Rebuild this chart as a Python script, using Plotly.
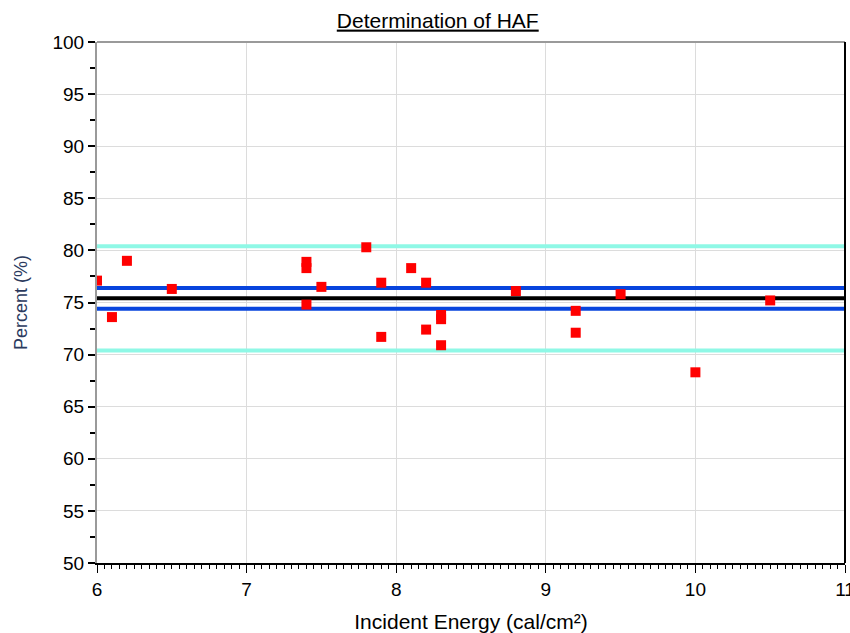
import plotly.graph_objects as go

# Data
energy = [6.0, 6.1, 6.2, 6.5, 7.4, 7.4, 7.4, 7.5, 7.8, 7.9, 7.9, 8.1, 8.2, 8.2,
          8.3, 8.3, 8.3, 8.8, 9.2, 9.2, 9.5, 10.0, 10.5]
percent = [77.1, 73.6, 79.0, 76.3, 78.9, 78.3, 74.8, 76.5, 80.3, 76.9, 71.7, 78.3, 76.9, 72.4,
           73.8, 73.4, 70.9, 76.1, 74.2, 72.1, 75.8, 68.3, 75.2]

mean_level = 75.4
inner_band = [74.4, 76.4]
outer_band = [70.4, 80.4]
x_range = [6, 11]
y_range = [50, 100]

FONT = "Liberation Sans, Arial, sans-serif"

fig = go.Figure()

def hline(y, color, width):
    fig.add_trace(go.Scatter(x=x_range, y=[y, y], mode="lines",
                             line=dict(color=color, width=width),
                             hoverinfo="skip", showlegend=False))

for y in outer_band:
    hline(y, "#8ff8e6", 4)
for y in inner_band:
    hline(y, "#0744dd", 4)
hline(mean_level, "#000000", 4)

fig.add_trace(go.Scatter(x=energy, y=percent, mode="markers",
                         marker=dict(symbol="square", size=10, color="#ff0000",
                                     line=dict(width=0)),
                         showlegend=False, cliponaxis=True))

fig.update_layout(
    width=850, height=633,
    margin=dict(l=97, r=5, t=42, b=70, autoexpand=False),
    paper_bgcolor="white", plot_bgcolor="white",
    title=dict(text="<u>Determination of HAF</u>", x=0.515, xanchor="center",
               y=0.968, yanchor="middle",
               font=dict(family=FONT, size=21, color="#000000")),
    font=dict(family=FONT, color="#000000"),
)

fig.update_xaxes(
    range=x_range, dtick=1, tick0=6, automargin=False,
    ticklabeloverflow="allow",
    showgrid=True, gridcolor="#dcdcdc", gridwidth=1,
    zeroline=False,
    showline=True, linecolor="#000000", linewidth=2,
    ticks="outside", ticklen=8, tickcolor="#000000", tickwidth=1,
    minor=dict(dtick=0.05, ticks="outside", ticklen=4, tickcolor="#000000", showgrid=False),
    tickfont=dict(family=FONT, size=19),
    title=dict(text="Incident Energy (cal/cm²)", font=dict(family=FONT, size=21), standoff=16),
)

fig.update_yaxes(
    range=y_range, dtick=5, tick0=50, automargin=False,
    ticklabeloverflow="allow",
    showgrid=True, gridcolor="#dcdcdc", gridwidth=1,
    zeroline=False,
    showline=True, linecolor="#9a9a9a", linewidth=2,
    ticks="outside", ticklen=7, tickcolor="#000000", tickwidth=2,
    minor=dict(dtick=2.5, ticks="outside", ticklen=5, tickcolor="#000000", tickwidth=2, showgrid=False),
    tickfont=dict(family=FONT, size=19),
    title=dict(text="Percent (%)", font=dict(family=FONT, size=18, color="#2b3a5e"), standoff=20),
)

# top and right frame lines
fig.add_shape(type="line", xref="paper", yref="paper", x0=0, x1=1, y0=1, y1=1,
              line=dict(color="#9a9a9a", width=2))
fig.add_shape(type="line", xref="paper", yref="paper", x0=1, x1=1, y0=0, y1=1,
              line=dict(color="#000000", width=2))

fig.write_html(
    "out.html",
    config={"displayModeBar": False},
    post_script="document.body.style.margin='0';document.body.style.overflow='hidden';",
)
